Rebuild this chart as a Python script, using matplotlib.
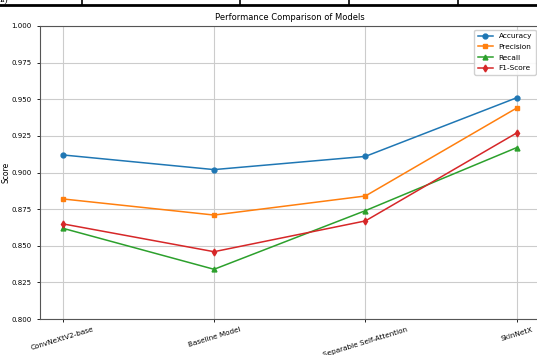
import matplotlib
matplotlib.use('Agg')
import matplotlib.pyplot as plt
from matplotlib.lines import Line2D

models = ['ConvNeXtV2-base', 'Baseline Model', 'Separable Self-Attention', 'SkinNetX']
accuracy = [0.912, 0.902, 0.911, 0.951]
precision = [0.882, 0.871, 0.884, 0.944]
recall = [0.862, 0.834, 0.874, 0.917]
f1_score = [0.865, 0.846, 0.867, 0.927]

fig = plt.figure(figsize=(5.37, 3.55), dpi=100)
ax = fig.add_axes([0.0745, 0.101, 0.93, 0.826])

ax.plot(models, accuracy, marker='o', markersize=3.5, linewidth=1.1, color='#1f77b4', label='Accuracy')
ax.plot(models, precision, marker='s', markersize=3.5, linewidth=1.1, color='#ff7f0e', label='Precision')
ax.plot(models, recall, marker='^', markersize=3.5, linewidth=1.1, color='#2ca02c', label='Recall')
ax.plot(models, f1_score, marker='d', markersize=3.5, linewidth=1.1, color='#d62728', label='F1-Score')

ax.set_ylim(0.8, 1.0)
ax.set_yticks([0.8, 0.825, 0.85, 0.875, 0.9, 0.925, 0.95, 0.975, 1.0])
ax.set_ylabel('Score', fontsize=5.5)
ax.yaxis.set_label_coords(-0.06, 0.5)
ax.set_title('Performance Comparison of Models', fontsize=6, pad=4)
ax.tick_params(axis='y', labelsize=5, length=2.5, width=0.6)
ax.tick_params(axis='x', labelsize=5.2, length=2.5, width=0.6, pad=2.5)
plt.setp(ax.get_xticklabels(), rotation=17, ha='center')
ax.grid(True, color='#cccccc', linewidth=0.8)
for s in ax.spines.values():
    s.set_color('#555555')
    s.set_linewidth(0.8)
ax.legend(loc='upper right', fontsize=5.3, framealpha=0.9, handlelength=2,
          borderpad=0.5, labelspacing=0.6)

# table border fragment above the chart
fig.add_artist(Line2D([0, 1], [0.985, 0.985], color='black', linewidth=2))
for xv in [0.153, 0.447, 0.65, 0.853]:
    fig.add_artist(Line2D([xv, xv], [0.985, 1.0], color='black', linewidth=1.2))
fig.text(0.0, 0.99, 'ii)', fontsize=7, family='Liberation Serif', va='bottom')

fig.savefig('out.png', dpi=100)
